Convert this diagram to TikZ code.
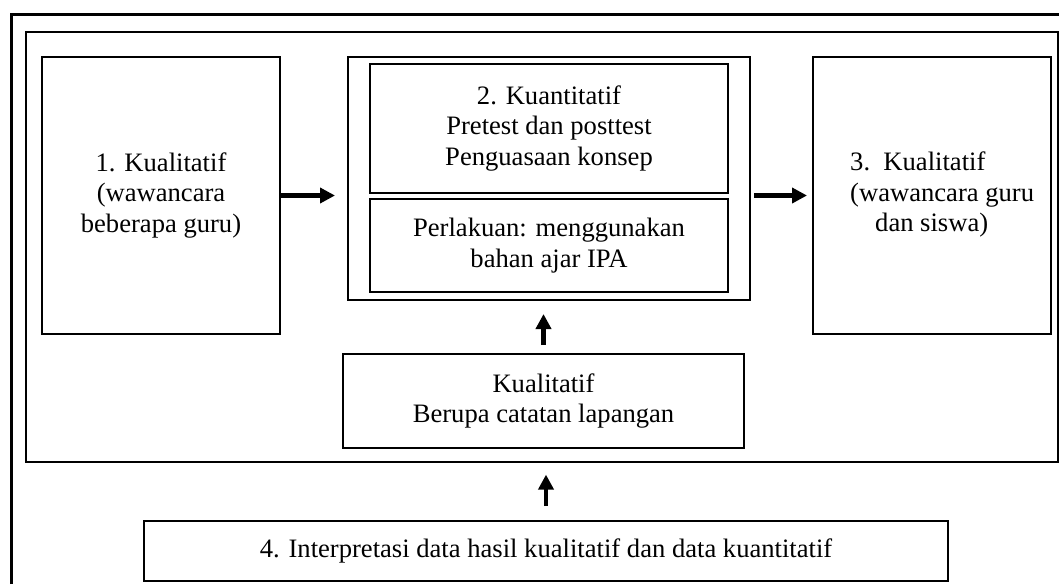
\documentclass[tikz,border=0pt]{standalone}
\usepackage{fontspec}
\setmainfont{Liberation Serif}
\usetikzlibrary{arrows.meta}
\begin{document}
\begin{tikzpicture}[x=1pt,y=-1pt,
  txt/.style={inner sep=0pt, font=\fontsize{26.6}{30.6}\selectfont},
  box/.style={txt, draw, line width=2pt, anchor=north west, align=center},
  flow/.style={line width=4.5pt, -{Triangle[length=15pt,width=15pt]}}]
\useasboundingbox (0,0) rectangle (1059,584);
% outer frame (only top and left sides visible)
\draw[line width=3.3pt] (11.5,584) -- (11.5,14.5) -- (1059,14.5);
% inner frame
\node[draw, line width=1.6pt, anchor=north west, minimum width=1032pt,
  minimum height=430pt, inner sep=0pt] (frame) at (25,31) {};
% boxes
\node[box, minimum width=238pt, minimum height=277pt] (b1) at (41,56)
  {1. Kualitatif\\(wawancara\\beberapa guru)};
\node[box, minimum width=402pt, minimum height=243pt] (mid) at (347,56) {};
\node[box, minimum width=358pt, minimum height=129pt] (top) at (369,63)
  {2. Kuantitatif\\Pretest dan posttest\\Penguasaan konsep};
\node[box, minimum width=358pt, minimum height=93pt] (treat) at (369,198)
  {Perlakuan: menggunakan\\bahan ajar IPA};
\node[box, minimum width=238pt, minimum height=277pt] (b3) at (812,56) {};
\node[txt, anchor=west, align=left] (b3t) at (850,194.5)
  {3.\ \ Kualitatif\\(wawancara guru\\\hspace*{25pt}dan siswa)};
\node[box, minimum width=401pt, minimum height=94pt] (lap) at (342,353)
  {Kualitatif\\Berupa catatan lapangan};
\node[box, minimum width=804pt, minimum height=60pt] (b4) at (143,520)
  {4. Interpretasi data hasil kualitatif dan data kuantitatif};
% arrows
\draw[flow, shorten >=12pt] (b1.east) -- (b1.east -| mid.west);
\draw[flow, shorten <=3pt, shorten >=5pt] (b3.west -| mid.east) -- (b3.west);
\draw[flow, shorten <=8pt, shorten >=13pt] (lap.north) -- (lap.north |- mid.south);
\draw[flow, shorten <=14pt, shorten >=12pt] (b4.north) -- (b4.north |- frame.south);
\end{tikzpicture}
\end{document}
